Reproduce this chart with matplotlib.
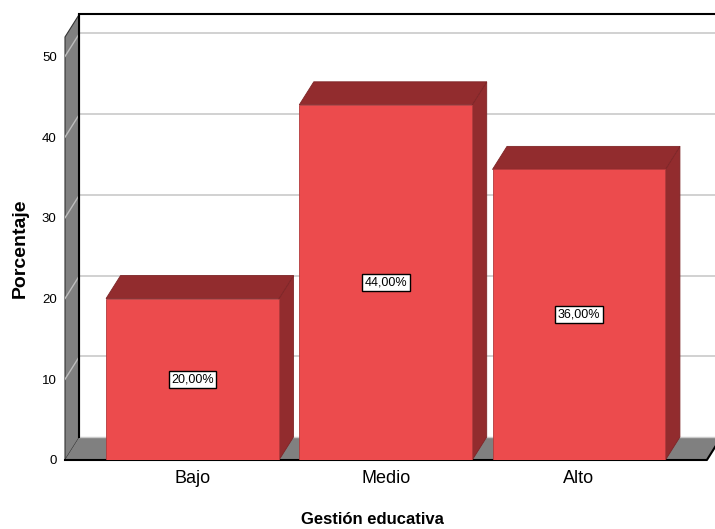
import matplotlib
matplotlib.use('Agg')
import matplotlib.pyplot as plt
from matplotlib.patches import Polygon

# Datos del grafico
categorias = ['Bajo', 'Medio', 'Alto']
porcentajes = [20.0, 44.0, 36.0]
etiquetas = ['20,00%', '44,00%', '36,00%']
marcas_y = [0, 10, 20, 30, 40, 50]

plt.rcParams['font.family'] = ['Liberation Sans', 'DejaVu Sans']

# colores estilo SPSS
frente = '#EC4B4D'
oscuro = '#922C2E'
gris = '#808080'
rejilla = '#CACACA'

# profundidad 3D (en unidades de datos)
dx = 0.075
dy = 2.85
ancho = 0.895
xmin, xmax = -0.66, 2.704
ymax = 55.25
tope = ymax - dy
fin_piso = 2.662


def main():
    fig = plt.figure(figsize=(7.15, 5.29), dpi=100)
    ax = fig.add_axes([65 / 715, 69 / 529, 650 / 715, 446 / 529])
    ax.set_xlim(xmin, xmax)
    ax.set_ylim(0, ymax)
    for s in ax.spines.values():
        s.set_visible(False)

    # pared del fondo y rejilla
    for v in marcas_y[1:]:
        ax.plot([xmin + dx, xmax + 0.1], [v + dy, v + dy], color=rejilla, lw=1.2,
                zorder=1, clip_on=False)
        ax.plot([xmin, xmin + dx], [v, v + dy], color='#BDBDBD', lw=1, zorder=3)
    ax.plot([xmin + dx, xmax + 0.1], [ymax, ymax], color='black', lw=1.5, zorder=4,
            clip_on=False)
    ax.plot([xmin + dx, xmin + dx], [dy, ymax], color='black', lw=1.5, zorder=4)

    # pared izquierda
    pared = Polygon([(xmin, 0), (xmin, tope), (xmin + dx, ymax), (xmin + dx, dy)],
                    closed=True, fc=gris, ec='#333333', lw=0.8, zorder=2, clip_on=False)
    ax.add_patch(pared)

    # piso
    piso = Polygon([(xmin, 0), (fin_piso, 0), (fin_piso + dx, dy), (xmin + dx, dy)],
                   closed=True, fc=gris, ec='none', zorder=2, clip_on=False)
    ax.add_patch(piso)
    ax.plot([xmin + dx, xmax + 0.1], [dy, dy], color=rejilla, lw=1, zorder=2.5,
            clip_on=False)
    ax.plot([xmin, fin_piso, fin_piso + dx], [0, 0, dy], color='black', lw=1.5,
            zorder=2.6, clip_on=False)

    # barras
    for i, v in enumerate(porcentajes):
        izq = i - ancho / 2
        der = i + ancho / 2
        cara = Polygon([(izq, 0), (der, 0), (der, v), (izq, v)], closed=True,
                       fc=frente, ec='#B33A3C', lw=0.6, zorder=5)
        arriba = Polygon([(izq, v), (der, v), (der + dx, v + dy), (izq + dx, v + dy)],
                         closed=True, fc=oscuro, ec='#7E2527', lw=0.6, zorder=5)
        lado = Polygon([(der, 0), (der, v), (der + dx, v + dy), (der + dx, dy)],
                       closed=True, fc=oscuro, ec='#7E2527', lw=0.6, zorder=5)
        ax.add_patch(lado)
        ax.add_patch(arriba)
        ax.add_patch(cara)
        ax.text(i, v / 2, etiquetas[i], ha='center', va='center', fontsize=9,
                zorder=6, bbox=dict(boxstyle='square,pad=0.2', fc='white',
                                    ec='black', lw=1))

    ax.set_xticks(range(len(categorias)), categorias, fontsize=13)
    ax.set_yticks(marcas_y, [str(m) for m in marcas_y], fontsize=9.5)
    ax.tick_params(axis='x', length=0, pad=7)
    ax.tick_params(axis='y', length=0, pad=6)

    fig.text(372 / 715, 1 - 519 / 529, 'Gestión educativa', ha='center', va='center',
             fontsize=12, fontweight='bold')
    fig.text(20 / 715, 1 - 248 / 529, 'Porcentaje', ha='center', va='center',
             rotation=90, fontsize=14, fontweight='bold')

    fig.savefig('out.png', dpi=100)


if __name__ == "__main__":
    main()
